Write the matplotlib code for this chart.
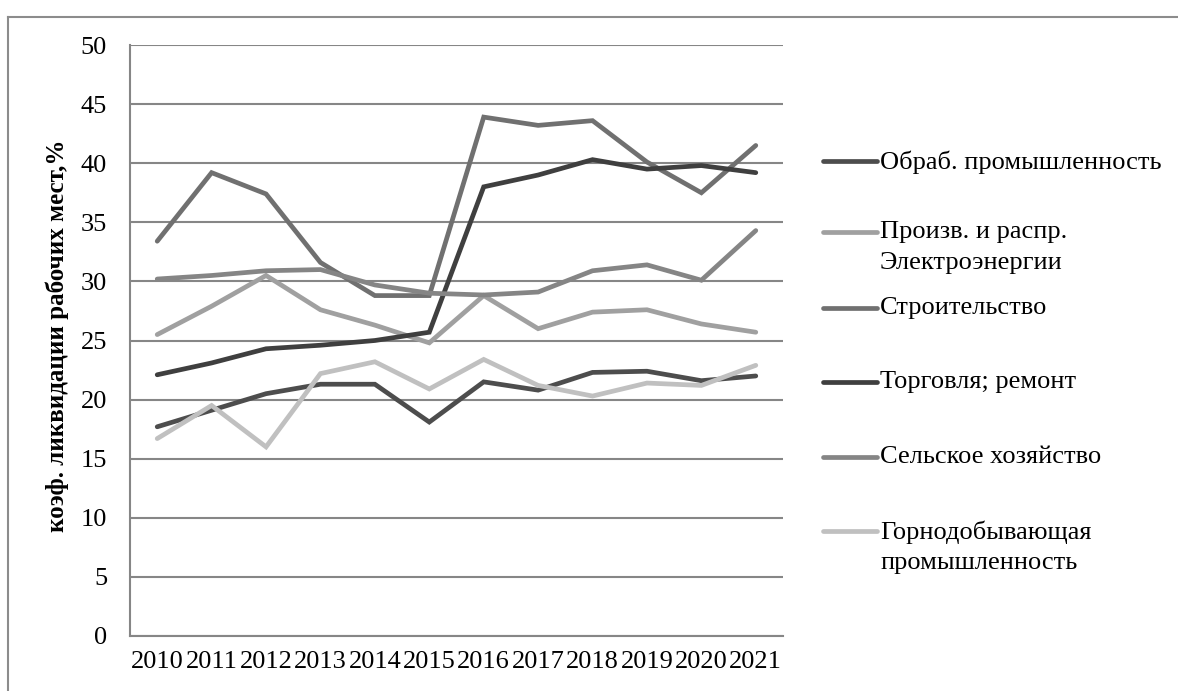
import matplotlib
matplotlib.use('Agg')
import matplotlib.pyplot as plt
from matplotlib.lines import Line2D

# Данные
years = ['2010', '2011', '2012', '2013', '2014', '2015',
         '2016', '2017', '2018', '2019', '2020', '2021']

obrab = [17.7, 19.1, 20.5, 21.3, 21.3, 18.1, 21.5, 20.8, 22.3, 22.4, 21.6, 22.0]
elektro = [25.5, 27.9, 30.5, 27.6, 26.3, 24.8, 28.8, 26.0, 27.4, 27.6, 26.4, 25.7]
stroit = [33.4, 39.2, 37.4, 31.6, 28.8, 28.8, 43.9, 43.2, 43.6, 40.1, 37.5, 41.5]
torgovlya = [22.1, 23.1, 24.3, 24.6, 25.0, 25.7, 38.0, 39.0, 40.3, 39.5, 39.8, 39.2]
selskoe = [30.2, 30.5, 30.9, 31.0, 29.7, 29.0, 28.85, 29.1, 30.9, 31.4, 30.1, 34.3]
gorno = [16.7, 19.5, 16.0, 22.2, 23.2, 20.9, 23.4, 21.2, 20.3, 21.4, 21.2, 22.9]

names = ['Обраб. промышленность', 'Произв. и распр.\nЭлектроэнергии', 'Строительство',
         'Торговля; ремонт', 'Сельское хозяйство', 'Горнодобывающая\nпромышленность']
series = [obrab, elektro, stroit, torgovlya, selskoe, gorno]
colors = ['#4d4d4d', '#a0a0a0', '#707070', '#3f3f3f', '#858585', '#c0c0c0']

plt.rcParams['font.family'] = ['Liberation Serif', 'DejaVu Serif']

W, H = 1178, 691
fig = plt.figure(figsize=(W / 100, H / 100), dpi=100)
ax = fig.add_axes([130 / W, 1 - 636 / H, (783 - 130) / W, (636 - 45) / H])

x = list(range(len(years)))
for vals, c in zip(series, colors):
    ax.plot(x, vals, color=c, lw=3.4, solid_capstyle='round', solid_joinstyle='miter', zorder=3)

ax.set_xlim(-0.5, len(years) - 0.5)
ax.set_ylim(0, 50)
ax.set_yticks(range(0, 51, 5))
ax.set_xticks(x)
ax.set_xticklabels(years)
ax.tick_params(length=0, labelsize=19, colors='black')
ax.tick_params(axis='x', pad=11)
ax.tick_params(axis='y', pad=16.5)
ax.yaxis.grid(True, color='#868686', lw=1.5)
ax.set_axisbelow(True)
for s in ['top', 'right']:
    ax.spines[s].set_visible(False)
for s in ['left', 'bottom']:
    ax.spines[s].set_color('#868686')
    ax.spines[s].set_linewidth(1.5)

fig.text(57 / W, 1 - 336 / H, 'коэф. ликвидации рабочих мест,%', rotation=90,
         ha='center', va='center', fontsize=18, fontweight='bold')

# легенда вручную (как в Excel)
leg_y = [161, 232, 308, 382, 457, 531]
for name, c, yy in zip(names, colors, leg_y):
    fy = 1 - yy / H
    fig.add_artist(Line2D([823 / W, 877 / W], [fy, fy], color=c, lw=3.4,
                          solid_capstyle='round'))
    fig.text(880 / W, fy + 11 / H, name, ha='left', va='top', fontsize=19,
             linespacing=1.5)

# рамка
fig.add_artist(Line2D([8 / W, 8 / W], [0, 1 - 17 / H], color='#8c8c8c', lw=1.5))
fig.add_artist(Line2D([8 / W, 1], [1 - 17 / H, 1 - 17 / H], color='#8c8c8c', lw=1.5))

plt.savefig('out.png', dpi=100)
